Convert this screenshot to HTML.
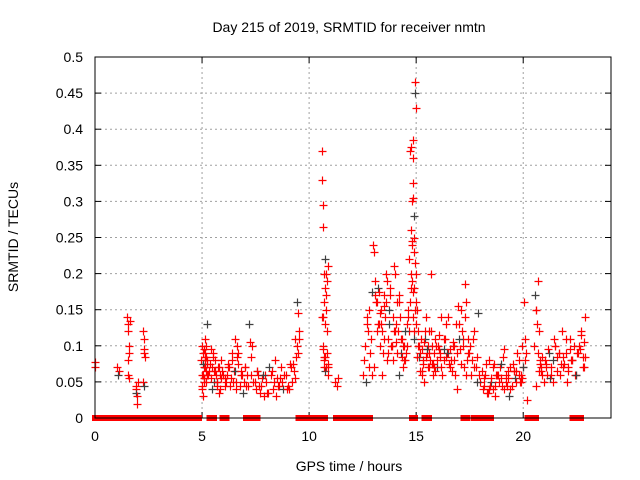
<!DOCTYPE html>
<html><head><meta charset="utf-8"><style>
html,body{margin:0;padding:0;background:#fff;}
svg{display:block;font-family:"Liberation Sans",sans-serif;}
</style></head><body>
<svg id="chart" width="640" height="480">
<text x="349" y="32" font-size="14" text-anchor="middle">Day 215 of 2019, SRMTID for receiver nmtn</text>
<text x="349" y="471" font-size="14" text-anchor="middle">GPS time / hours</text>
<text transform="translate(18,237) rotate(-90)" font-size="14" text-anchor="middle">SRMTID / TECUs</text>
<g id="grid"></g>
<g id="ticks"></g>
<g id="marks"></g>
<rect x="95" y="57" width="516" height="361" fill="none" stroke="#000" stroke-width="1"/>
</svg>
<script>
const xTicks=[0,5,10,15,20];
const yTicks=[0,0.05,0.1,0.15,0.2,0.25,0.3,0.35,0.4,0.45,0.5];
const yTickLabels=["0","0.05","0.1","0.15","0.2","0.25","0.3","0.35","0.4","0.45","0.5"];
const zeroStarts=[0,1.63,2.08,2.57,5.35,5.95,7.05,7.45,9.5,11.25,12.6,14.8,15.4,17.2,17.7,18.2,20.2,22.3,22.55];
const zeroEnds=[1.5,1.96,2.45,4.85,5.55,6.15,7.25,7.6,10.75,12.5,12.85,14.95,15.6,17.4,17.9,18.5,20.6,22.45,22.7];
const hours=[0,0.02,1.05,1.1,1.08,1.5,1.52,1.55,1.58,1.6,1.56,1.62,1.54,1.59,1.9,1.92,1.95,1.97,1.93,2.0,2.25,2.28,2.3,2.27,2.32,2.26,2.3,
4.95,5.0,5.02,5.05,5.08,5.1,5.12,5.15,5.18,5.2,5.22,5.25,4.98,5.03,5.07,5.13,5.17,5.28,
5.4,5.45,5.5,5.55,5.6,5.65,5.7,5.75,5.8,5.85,5.9,5.42,5.52,5.62,5.72,5.82,
6.0,6.1,6.2,6.3,6.4,6.5,6.6,6.7,6.8,6.9,6.05,6.25,6.45,6.65,6.85,6.55,6.62,6.7,
7.0,7.1,7.2,7.25,7.3,7.4,7.5,7.6,7.7,7.8,7.9,7.05,7.35,7.55,7.75,7.95,
8.0,8.1,8.2,8.3,8.4,8.5,8.6,8.7,8.8,8.9,9.0,9.1,9.2,9.3,9.4,9.45,9.5,9.52,9.55,8.15,8.45,8.75,9.05,9.35,9.48,
10.6,10.62,10.64,10.66,10.7,10.72,10.75,10.78,10.8,10.82,10.85,10.88,10.9,10.6,10.65,10.7,10.75,10.8,10.68,10.73,10.86,
11.2,11.3,11.35,
12.5,12.55,12.6,12.65,12.7,12.75,12.8,12.85,12.9,12.95,13.0,13.05,13.1,13.15,13.2,13.25,13.3,13.35,13.4,13.45,13.5,13.55,13.6,13.65,13.7,13.75,13.8,13.85,13.9,13.95,14.0,14.05,14.1,14.15,14.2,14.25,14.3,14.35,14.4,14.45,14.5,13.02,13.22,13.42,13.62,13.82,14.02,14.22,14.42,
14.55,14.6,14.65,14.7,14.75,14.78,14.8,14.82,14.85,14.88,14.9,14.92,14.95,14.98,15.0,14.72,14.77,14.83,14.87,14.93,14.96,14.99,14.85,14.9,
15.05,15.1,15.15,15.2,15.25,15.3,15.35,15.4,15.45,15.5,15.55,15.6,15.65,15.7,15.75,15.8,15.85,15.9,15.95,16.0,16.1,16.2,16.3,16.4,16.5,16.6,16.7,16.8,16.9,15.12,15.42,15.72,16.05,16.35,16.65,16.95,15.25,15.55,15.82,16.15,16.45,16.75,
17.0,17.1,17.2,17.3,17.4,17.5,17.6,17.7,17.8,17.9,17.05,17.35,17.65,17.85,17.25,
18.0,18.1,18.2,18.3,18.4,18.5,18.6,18.7,18.8,18.9,19.0,19.1,19.2,19.3,19.4,19.5,19.6,19.7,19.8,19.9,20.0,20.1,20.2,18.15,18.45,18.75,19.05,19.35,19.65,19.95,18.35,18.65,18.95,19.25,19.55,19.85,20.15,
20.5,20.55,20.6,20.65,20.7,20.75,20.8,20.85,20.9,20.95,21.0,21.1,21.2,21.3,21.4,21.5,21.6,21.7,21.8,21.9,22.0,22.1,22.2,22.3,22.4,22.5,22.6,22.7,22.8,22.85,22.9,20.62,20.82,21.05,21.25,21.45,21.65,21.85,22.05,22.25,22.45,22.65,22.82,22.88,
5.01,5.04,5.06,5.09,5.11,5.14,5.16,5.19,5.21,5.24,5.33,5.38,5.47,5.58,5.68,5.78,5.88,5.95,6.08,6.15,6.22,6.35,6.42,6.52,6.58,6.75,6.82,6.95,7.02,7.15,7.28,7.45,7.58,7.68,7.85,8.05,8.25,8.35,8.55,8.65,8.85,8.95,9.15,9.25,9.32,9.42,
10.63,10.67,10.71,10.77,10.83,10.87,10.74,10.69,
12.72,12.82,12.92,13.08,13.12,13.18,13.28,13.32,13.38,13.48,13.52,13.58,13.68,13.72,13.78,13.88,13.92,13.98,14.08,14.12,14.18,14.28,14.32,14.38,14.48,14.52,14.58,14.62,14.68,14.74,14.79,14.81,14.84,14.86,14.89,14.91,14.94,14.97,
15.02,15.08,15.18,15.22,15.28,15.32,15.38,15.48,15.52,15.58,15.62,15.68,15.78,15.88,15.92,15.98,16.08,16.12,16.18,16.28,16.32,16.38,16.48,16.52,16.58,16.68,16.72,16.78,16.88,16.92,16.98,17.08,17.12,17.18,17.28,17.32,17.38,17.42,17.48,17.58,17.72,17.82,17.95,
18.08,18.18,18.28,18.38,18.48,18.58,18.68,18.78,18.88,18.98,19.08,19.18,19.28,19.38,19.48,19.58,19.68,19.78,19.88,19.92,19.98,20.05,20.08,
20.58,20.68,20.72,20.78,20.88,21.08,21.18,21.28,21.38,21.48,21.58,21.68,21.78,21.88,21.98,22.08,22.18,22.28,22.38,22.48,22.58,22.68,22.78,22.84,22.92];
const values=[0.078,0.07,0.07,0.065,0.06,0.14,0.13,0.12,0.1,0.09,0.08,0.135,0.06,0.055,0.04,0.035,0.03,0.02,0.045,0.05,0.12,0.11,0.09,0.095,0.085,0.05,0.045,
0.08,0.1,0.06,0.09,0.07,0.05,0.11,0.08,0.1,0.065,0.13,0.075,0.04,0.03,0.055,0.09,0.085,0.06,
0.095,0.07,0.09,0.05,0.08,0.06,0.045,0.07,0.035,0.06,0.08,0.055,0.085,0.065,0.05,0.04,
0.06,0.05,0.07,0.045,0.08,0.065,0.04,0.075,0.06,0.035,0.055,0.07,0.05,0.085,0.06,0.11,0.1,0.09,
0.07,0.06,0.13,0.105,0.085,0.05,0.04,0.06,0.035,0.055,0.03,0.045,0.1,0.065,0.045,0.06,
0.05,0.035,0.06,0.04,0.08,0.055,0.045,0.07,0.04,0.06,0.045,0.075,0.05,0.065,0.085,0.1,0.145,0.11,0.12,0.07,0.03,0.05,0.04,0.055,0.09,
0.37,0.33,0.295,0.265,0.2,0.22,0.18,0.17,0.15,0.12,0.09,0.075,0.06,0.14,0.1,0.08,0.065,0.2,0.16,0.13,0.07,
0.05,0.045,0.055,
0.06,0.08,0.1,0.05,0.14,0.12,0.07,0.09,0.11,0.06,0.24,0.23,0.17,0.16,0.18,0.13,0.1,0.15,0.12,0.09,0.17,0.14,0.2,0.19,0.11,0.15,0.18,0.1,0.08,0.21,0.2,0.13,0.16,0.12,0.17,0.14,0.09,0.11,0.07,0.1,0.08,0.07,0.13,0.06,0.08,0.1,0.12,0.06,
0.08,0.1,0.14,0.12,0.16,0.18,0.2,0.24,0.3,0.305,0.28,0.25,0.23,0.215,0.2,0.16,0.37,0.375,0.36,0.385,0.465,0.45,0.43,0.325,
0.18,0.15,0.12,0.1,0.09,0.06,0.08,0.05,0.11,0.14,0.09,0.07,0.12,0.08,0.2,0.1,0.06,0.09,0.11,0.07,0.1,0.085,0.06,0.08,0.13,0.09,0.07,0.1,0.06,0.04,0.085,0.12,0.075,0.095,0.11,0.08,0.155,0.065,0.1,0.07,0.14,0.09,
0.1,0.13,0.15,0.11,0.185,0.09,0.1,0.08,0.12,0.07,0.145,0.095,0.06,0.11,0.085,
0.07,0.05,0.04,0.06,0.035,0.08,0.05,0.04,0.03,0.06,0.07,0.045,0.095,0.05,0.065,0.04,0.075,0.055,0.09,0.06,0.05,0.07,0.08,0.025,0.055,0.045,0.06,0.085,0.03,0.065,0.1,0.035,0.075,0.055,0.045,0.065,0.05,
0.09,0.1,0.17,0.15,0.13,0.19,0.12,0.08,0.07,0.06,0.05,0.08,0.06,0.09,0.07,0.05,0.1,0.085,0.06,0.12,0.075,0.09,0.065,0.11,0.08,0.06,0.09,0.1,0.12,0.07,0.105,0.14,0.045,0.065,0.075,0.055,0.11,0.09,0.07,0.05,0.08,0.06,0.095,
0.07,0.085,0.045,0.075,0.06,0.095,0.055,0.07,0.085,0.05,0.06,0.08,0.065,0.075,0.04,0.065,0.05,0.07,0.055,0.065,0.045,0.06,0.075,0.055,0.09,0.065,0.05,0.045,0.065,0.05,0.07,0.045,0.06,0.05,0.065,0.045,0.06,0.035,0.065,0.05,0.045,0.055,0.06,0.04,0.07,0.075,
0.11,0.16,0.14,0.095,0.085,0.07,0.19,0.21,
0.085,0.07,0.13,0.15,0.175,0.19,0.16,0.12,0.175,0.145,0.13,0.155,0.11,0.16,0.09,0.13,0.17,0.1,0.14,0.12,0.105,0.09,0.16,0.11,0.085,0.1,0.12,0.09,0.13,0.15,0.22,0.26,0.19,0.245,0.175,0.14,0.12,0.11,
0.15,0.13,0.085,0.1,0.065,0.11,0.095,0.075,0.105,0.085,0.095,0.07,0.09,0.12,0.075,0.065,0.1,0.08,0.115,0.09,0.07,0.095,0.11,0.085,0.14,0.075,0.095,0.065,0.105,0.08,0.13,0.09,0.11,0.075,0.12,0.1,0.14,0.16,0.08,0.11,0.09,0.06,0.07,
0.05,0.06,0.065,0.045,0.075,0.04,0.055,0.07,0.045,0.06,0.05,0.075,0.04,0.06,0.055,0.07,0.045,0.065,0.05,0.08,0.06,0.055,0.07,
0.16,0.11,0.15,0.09,0.065,0.075,0.085,0.07,0.095,0.06,0.08,0.1,0.065,0.09,0.075,0.085,0.11,0.07,0.095,0.08,0.1,0.06,0.09,0.115,0.085];
const x=h=>95+h*516/24.1;
const y=v=>418-v*722;
const ns="http://www.w3.org/2000/svg";
function mk(tag,attrs,parent){const e=document.createElementNS(ns,tag);for(const k in attrs)e.setAttribute(k,attrs[k]);parent.appendChild(e);return e;}
const grid=document.getElementById('grid'),ticks=document.getElementById('ticks'),marks=document.getElementById('marks');
xTicks.forEach(t=>{
  if(t>0){const l=mk('line',{x1:x(t),x2:x(t),y1:57,y2:418,stroke:'#a0a0a0','stroke-dasharray':'2,3'},grid);
  
  }
  mk('line',{x1:x(t),x2:x(t),y1:418,y2:412,stroke:'#000'},ticks);
  mk('line',{x1:x(t),x2:x(t),y1:57,y2:63,stroke:'#000'},ticks);
  const tx=mk('text',{x:x(t),y:441,'font-size':14,'text-anchor':'middle'},ticks);tx.textContent=t;
  
  
});
yTicks.forEach((t,i)=>{
  if(t>0&&t<0.5){const l=mk('line',{x1:95,x2:611,y1:y(t),y2:y(t),stroke:'#a0a0a0','stroke-dasharray':'2,3'},grid);
  
  }
  mk('line',{x1:95,x2:101,y1:y(t),y2:y(t),stroke:'#000'},ticks);
  mk('line',{x1:605,x2:611,y1:y(t),y2:y(t),stroke:'#000'},ticks);
  const tx=mk('text',{x:83,y:y(t)+5,'font-size':14,'text-anchor':'end'},ticks);tx.textContent=yTickLabels[i];
  
  
});
zeroStarts.forEach((s,i)=>{
  const r=mk('rect',{x:x(s)-3,y:y(0)-3,width:x(zeroEnds[i])-x(s)+6,height:6,fill:'#ff0000','shape-rendering':'crispEdges'},marks);
  
  
});
hours.forEach((h,i)=>{
  const px=Math.round(x(h))+0.5,py=Math.round(y(values[i]))+0.5;
  const col=(i%11===4)?'#404040':'#ff0000';
  const p=mk('path',{d:`M${px-4},${py}h8M${px},${py-4}v8`,stroke:col,'stroke-width':1.2},marks);
  
  
});
</script>
</body></html>
